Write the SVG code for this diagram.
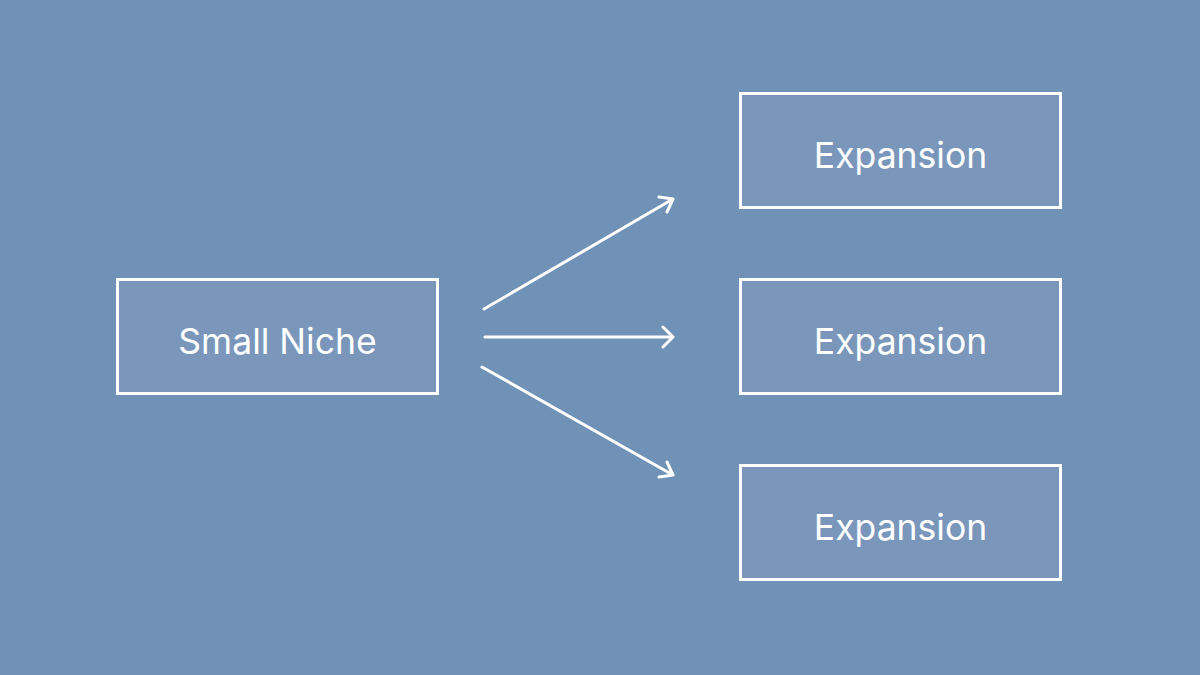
<svg xmlns="http://www.w3.org/2000/svg" width="1200" height="675" viewBox="0 0 1200 675">
<style>
.box{fill:#7a97bb;stroke:#ffffff;stroke-width:3}
.lbl{font-family:Inter,"Liberation Sans",sans-serif;font-size:35.5px;fill:#ffffff;text-anchor:middle}
.con{stroke:#ffffff;stroke-width:3;fill:none;stroke-linecap:round;stroke-linejoin:round}
</style>
<rect width="1200" height="675" fill="#7092b7"/>
<g id="small-niche"><rect class="box" x="117.5" y="279.5" width="320" height="114"/><text class="lbl" x="277.5" y="353.5">Small Niche</text></g>
<g id="expansion-1"><rect class="box" x="740.5" y="93.5" width="320" height="114"/><text class="lbl" x="900.5" y="167.5">Expansion</text></g>
<g id="expansion-2"><rect class="box" x="740.5" y="279.5" width="320" height="114"/><text class="lbl" x="900.5" y="353.5">Expansion</text></g>
<g id="expansion-3"><rect class="box" x="740.5" y="465.5" width="320" height="114"/><text class="lbl" x="900.5" y="539.5">Expansion</text></g>
<g id="connectors">
<path class="con" d="M484 309 L673 199 M659 197 L673 199 L667 212"/>
<path class="con" d="M485 337 L673 337 M663 327 L673 337 L663 347"/>
<path class="con" d="M482 367 L673 475 M667 462 L673 475 L659 477"/>
</g>
</svg>
